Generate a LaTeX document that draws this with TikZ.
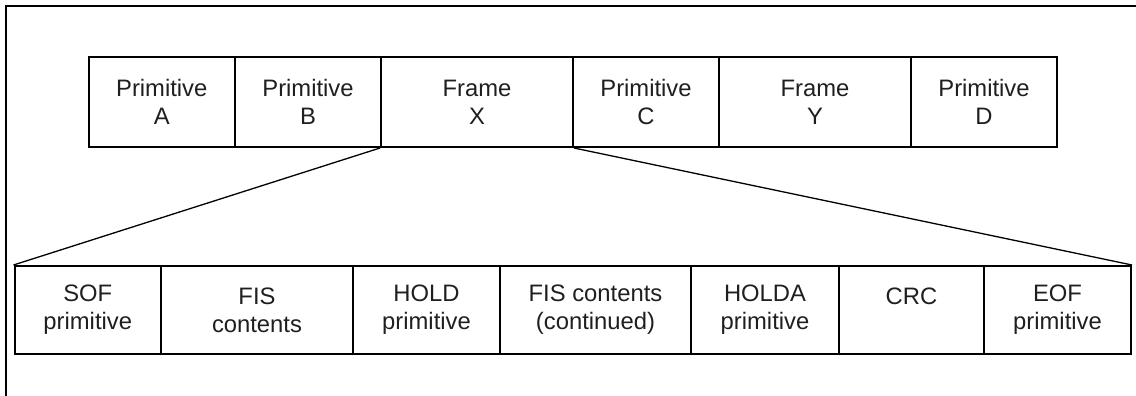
\documentclass[tikz,border=0pt]{standalone}
\usepackage{fontspec}
\setmainfont{Liberation Sans}
\begin{document}
\begin{tikzpicture}[x=1pt,y=-1pt,
  cell/.style={draw=black, line width=2pt, inner sep=0pt, anchor=north west,
    align=center, font=\fontsize{23.8}{27.7}\selectfont, text=black!88},
  link/.style={draw=black, line width=1.3pt}]
\useasboundingbox (0,0) rectangle (1136,396);
% outer (cropped) frame
\draw[line width=2pt] (6,396) -- (6,6) -- (1136,6);
% top row
\node[cell, minimum width=146.5pt, minimum height=90pt] (pa) at (87.5,56) {Primitive\\A};
\node[cell, minimum width=146pt, minimum height=90pt] (pb) at (234,56) {Primitive\\B};
\node[cell, minimum width=192pt, minimum height=90pt] (fx) at (380,56) {Frame\\X};
\node[cell, minimum width=146pt, minimum height=90pt] (pc) at (572,56) {Primitive\\C};
\node[cell, minimum width=192pt, minimum height=90pt] (fy) at (718,56) {Frame\\Y};
\node[cell, minimum width=146pt, minimum height=90pt] (pd) at (910,56) {Primitive\\D};
% bottom row
\node[cell, minimum width=146.5pt, minimum height=88pt] (sof) at (13.5,265) {SOF\\primitive};
\node[cell, minimum width=192pt, minimum height=88pt] (fis) at (160,265) {FIS\\contents};
\node[cell, minimum width=147pt, minimum height=88pt] (hold) at (352,265) {HOLD\\primitive};
\node[cell, minimum width=191pt, minimum height=88pt] (fisc) at (499,265) {FIS contents\\(continued)};
\node[cell, minimum width=148pt, minimum height=88pt] (holda) at (690,265) {HOLDA\\primitive};
\node[cell, minimum width=145pt, minimum height=88pt] (crc) at (838,265) {CRC\\\phantom{X}};
\node[cell, minimum width=147pt, minimum height=88pt] (eof) at (983,265) {EOF\\primitive};
% expansion lines
\draw[link] (fx.south west) -- (sof.north west);
\draw[link] (fx.south east) -- (eof.north east);
\end{tikzpicture}
\end{document}
